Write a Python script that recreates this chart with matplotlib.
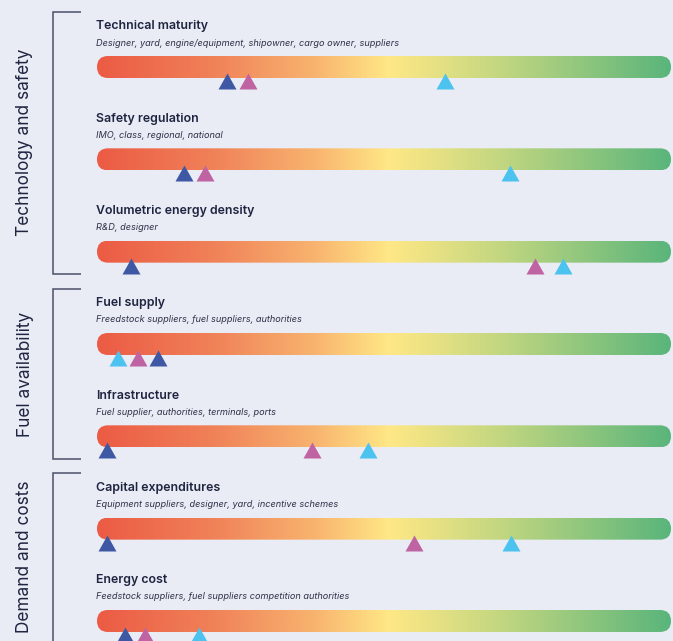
import numpy as np
import matplotlib
matplotlib.use("Agg")
import matplotlib.pyplot as plt
from matplotlib.patches import FancyBboxPatch
from matplotlib.path import Path
from matplotlib.colors import LinearSegmentedColormap

# ---- data -----------------------------------------------------------------
titles = [
    "Technical maturity",
    "Safety regulation",
    "Volumetric energy density",
    "Fuel supply",
    "Infrastructure",
    "Capital expenditures",
    "Energy cost",
]
subtitles = [
    "Designer, yard, engine/equipment, shipowner, cargo owner, suppliers",
    "IMO, class, regional, national",
    "R&D, designer",
    "Freedstock suppliers, fuel suppliers, authorities",
    "Fuel supplier, authorities, terminals, ports",
    "Equipment suppliers, designer, yard, incentive schemes",
    "Feedstock suppliers, fuel suppliers competition authorities",
]
# positions on the 0-100 readiness scale, one value per marker series
series_navy = [22.6, 15.1, 5.9, 10.6, 1.7, 1.7, 4.9]
series_pink = [26.3, 18.8, 76.3, 7.1, 37.4, 55.2, 8.3]
series_cyan = [60.6, 71.9, 81.1, 3.7, 47.2, 72.1, 17.8]

sections = ["Technology and safety", "Fuel availability", "Demand and costs"]

# ---- styling ---------------------------------------------------------------
W, H = 673, 641
BG = "#E9ECF5"
TEXT = "#1F2440"
SUB = "#2E3248"
LINE = "#4B5068"
NAVY, PINK, CYAN = "#3F58A4", "#BF63A3", "#4CC2EE"

BAR_L, BAR_R = 97, 671
BAR_H = 22
ROW0, ROW_STEP = 67, 92.33

grad = LinearSegmentedColormap.from_list(
    "readiness",
    [(0.0, "#EC5B45"), (0.2, "#F08158"), (0.38, "#F8B46F"),
     (0.51, "#FFE886"), (0.7, "#C4D780"), (1.0, "#5AB57B")],
)

fig = plt.figure(figsize=(W / 100, H / 100), dpi=100, facecolor=BG)
ax = fig.add_axes([0, 0, 1, 1])
ax.set_facecolor(BG)
ax.set_xlim(0, W)
ax.set_ylim(H, 0)
ax.axis("off")

# value axis spanning the bar length, y in pixel rows
vax = fig.add_axes([BAR_L / W, 0, (BAR_R - BAR_L) / W, 1])
vax.set_xlim(0, 100)
vax.set_ylim(H, 0)
vax.patch.set_alpha(0)
vax.axis("off")

plt.rcParams["font.family"] = ["Inter", "DejaVu Sans"]

gradient = np.linspace(0, 1, 512).reshape(1, -1)
tri = Path([(-9, -8), (9, -8), (0, 8), (-9, -8)],
           [Path.MOVETO, Path.LINETO, Path.LINETO, Path.CLOSEPOLY])

centers = [ROW0 + i * ROW_STEP for i in range(len(titles))]

for i, (title, sub) in enumerate(zip(titles, subtitles)):
    cy = centers[i]
    ax.text(96, cy - 37.5, title, fontsize=8.9, fontweight="semibold",
            color=TEXT, va="baseline", ha="left")
    ax.text(96, cy - 21.5, sub, fontsize=6.6, fontstyle="italic",
            color=SUB, va="baseline", ha="left")
    pill = FancyBboxPatch((BAR_L, cy - BAR_H / 2), BAR_R - BAR_L, BAR_H,
                          boxstyle=f"round,pad=0,rounding_size={BAR_H / 2}",
                          facecolor="none", edgecolor="none")
    ax.add_patch(pill)
    im = ax.imshow(gradient, cmap=grad, aspect="auto", interpolation="bilinear",
                   extent=(BAR_L, BAR_R, cy + BAR_H / 2, cy - BAR_H / 2))
    im.set_clip_path(pill)

ax.set_xlim(0, W)
ax.set_ylim(H, 0)

ys = [c + 14 for c in centers]
ms = 18 / (100 / 72)
for vals, col in [(series_navy, NAVY), (series_pink, PINK), (series_cyan, CYAN)]:
    vax.scatter(vals, ys, marker=tri, s=ms ** 2, color=col, linewidths=0, zorder=5)

# section brackets and rotated labels
brackets = [(12, 274), (289, 459), (473, 660)]
label_y = [142, 374, 557]
for name, (top, bot), ly in zip(sections, brackets, label_y):
    ax.plot([81, 53, 53, 81], [top, top, bot, bot], color=LINE, lw=1.1,
            solid_joinstyle="miter", solid_capstyle="butt")
    ax.text(29.5, ly, name, fontsize=12.4, color=TEXT, rotation=90,
            rotation_mode="anchor", ha="center", va="baseline")

fig.savefig("out.png", dpi=100, facecolor=BG)
